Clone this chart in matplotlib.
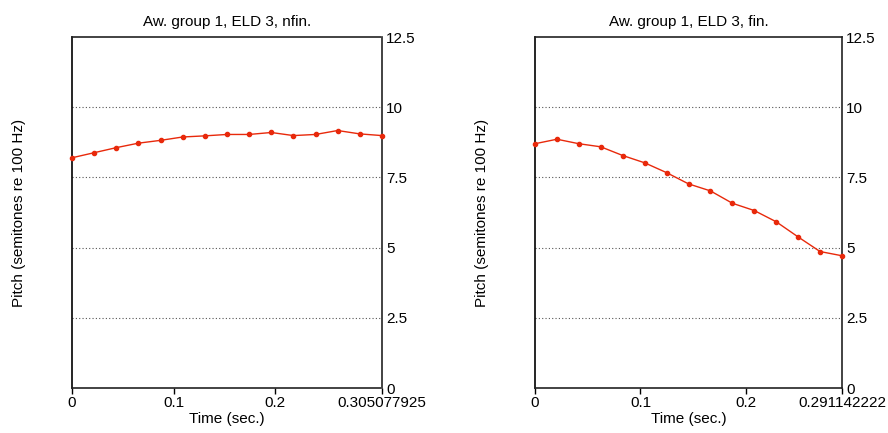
import matplotlib
matplotlib.use("Agg")
import matplotlib.pyplot as plt
import numpy as np

plt.rcParams['font.family'] = ['Liberation Sans', 'DejaVu Sans']

# time ranges (end of each utterance)
t_end_nfin = 0.305077925
t_end_fin = 0.291142222

# pitch values (semitones re 100 Hz), 15 equally spaced samples
pitch_nfin = [8.20, 8.38, 8.56, 8.72, 8.82, 8.94, 8.98, 9.03, 9.03, 9.10,
              8.99, 9.03, 9.17, 9.05, 8.99]
pitch_fin = [8.70, 8.86, 8.70, 8.59, 8.28, 8.02, 7.67, 7.27, 7.02, 6.58,
             6.32, 5.92, 5.38, 4.86, 4.71]

titles = ["Aw. group 1, ELD 3, nfin.", "Aw. group 1, ELD 3, fin."]
end_labels = ["0.305077925", "0.291142222"]
yticks = [0, 2.5, 5, 7.5, 10, 12.5]
ytick_labels = ["0", "2.5", "5", "7.5", "10", "12.5"]

fig = plt.figure(figsize=(8.88, 4.33), dpi=100)
ax1 = fig.add_axes([0.0811, 0.1039, 0.349, 0.8106])
ax2 = fig.add_axes([0.6025, 0.1039, 0.3457, 0.8106])

panels = [(ax1, t_end_nfin, pitch_nfin, titles[0], end_labels[0]),
          (ax2, t_end_fin, pitch_fin, titles[1], end_labels[1])]

for ax, t_end, pitch, title, end_lab in panels:
    t = np.linspace(0, t_end, len(pitch))
    for yv in yticks[1:-1]:
        ax.axhline(yv, color='#555555', linestyle=(0, (1, 2)), linewidth=0.8, zorder=1)
    ax.plot(t, pitch, color='#e8290b', linewidth=1.0, marker='o', markersize=3,
            zorder=3, clip_on=False)
    ax.set_xlim(0, t_end)
    ax.set_ylim(0, 12.5)
    ax.set_xticks([0, 0.1, 0.2, t_end])
    ax.set_xticklabels(["0", "0.1", "0.2", end_lab])
    ax.yaxis.tick_right()
    ax.set_yticks(yticks)
    ax.set_yticklabels(ytick_labels)
    ax.tick_params(axis='both', labelsize=11, length=4, width=1, direction='out', pad=2)
    ax.tick_params(axis='y', length=0, pad=3)
    ax.spines['left'].set_color('black')
    ax.spines['left'].set_linewidth(1.2)
    for s in ['top', 'right', 'bottom']:
        ax.spines[s].set_linestyle((0, (1, 1)))
        ax.spines[s].set_color('#222222')
        ax.spines[s].set_linewidth(1.2)
    ax.set_title(title, fontsize=11, pad=8)
    ax.set_xlabel("Time (sec.)", fontsize=11, labelpad=1)
    ax.set_ylabel("Pitch (semitones re 100 Hz)", fontsize=11, labelpad=33)
    ax.yaxis.set_label_position('left')

fig.savefig("out.png", dpi=100)
